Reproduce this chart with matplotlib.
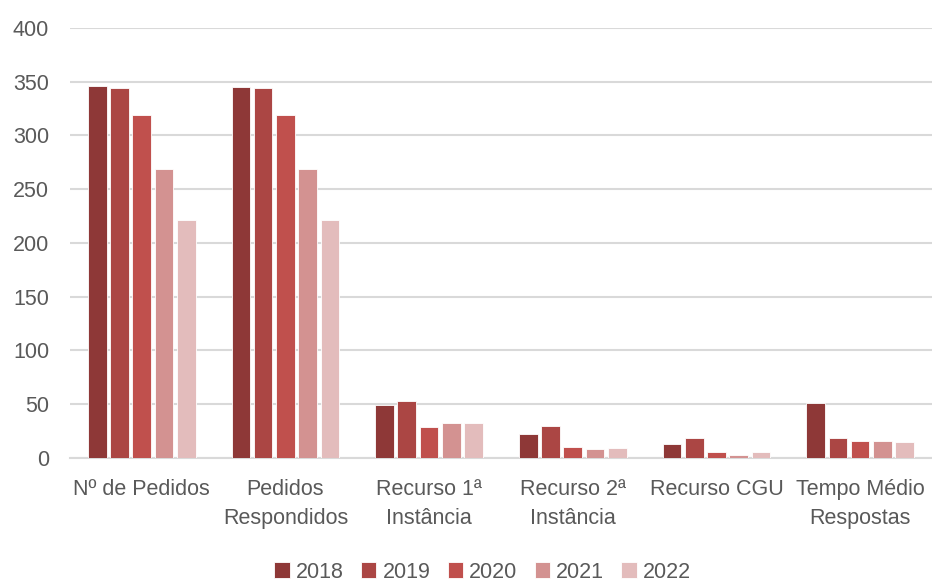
import numpy as np
import matplotlib.pyplot as plt

categories = ['Nº de Pedidos', 'Pedidos\nRespondidos', 'Recurso 1ª\nInstância',
              'Recurso 2ª\nInstância', 'Recurso CGU', 'Tempo Médio\nRespostas']
years = ['2018', '2019', '2020', '2021', '2022']
values = {
    '2018': [346, 345, 49, 22, 13, 51],
    '2019': [344, 344, 53, 30, 18, 18],
    '2020': [319, 319, 29, 10, 5, 16],
    '2021': [269, 269, 32, 8, 3, 16],
    '2022': [221, 221, 32, 9, 5, 15],
}
colors = ['#8E3837', '#AB4644', '#C0504D', '#D39291', '#E3BCBC']

plt.rcParams['font.family'] = ['Liberation Sans', 'DejaVu Sans']

fig = plt.figure(figsize=(9.32, 5.81), dpi=100)
ax = fig.add_axes([0.075, 0.212, 0.925, 0.740])

x = np.arange(len(categories))
step = 0.155
width = 0.13
for i, (yr, c) in enumerate(zip(years, colors)):
    ax.bar(x + (i - 2) * step, values[yr], width, color=c, label=yr,
           edgecolor='white', linewidth=0.6, zorder=3)

ax.set_xlim(-0.5, len(categories) - 0.5)
ax.set_ylim(0, 400)
ax.set_yticks(range(0, 401, 50))
ax.set_xticks(x)
ax.set_xticklabels(categories, linespacing=1.5)
ax.tick_params(axis='both', length=0, labelsize=15.5, colors='#595959')
ax.tick_params(axis='x', pad=15)
ax.tick_params(axis='y', pad=15)
ax.grid(axis='y', color='#D9D9D9', linewidth=1.5, zorder=0)
for s in ['top', 'right', 'left']:
    ax.spines[s].set_visible(False)
ax.spines['bottom'].set_color('#D9D9D9')
ax.spines['bottom'].set_linewidth(1.5)

leg = fig.legend(loc='lower center', bbox_to_anchor=(0.518, -0.036), ncol=5,
                 frameon=False, fontsize=15.5, handlelength=0.7, handleheight=0.7,
                 handletextpad=0.3, columnspacing=0.8)
for t in leg.get_texts():
    t.set_color('#595959')

fig.savefig('out.png', dpi=100)
